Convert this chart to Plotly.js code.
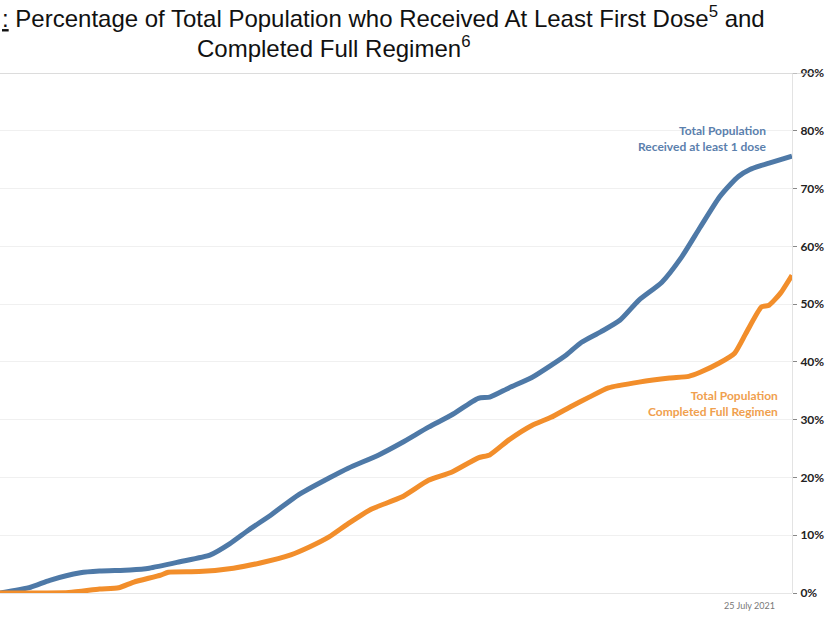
<!DOCTYPE html>
<html>
<head>
<meta charset="utf-8">
<script src="https://cdn.plot.ly/plotly-3.0.1.min.js"></script>
<style>html,body{margin:0;padding:0;background:#fff;}#chart{width:830px;height:622px;}</style>
</head>
<body>
<div id="chart"></div>
<script>
// Days since start of vaccination (30 Dec 2020) and % of total population
const startDate = '2020-12-30';
const endDate = '2021-07-25';

const firstDoseDays = [0, 8, 13, 21, 26, 34, 39, 47, 55, 60, 65, 71, 78, 86, 91, 99, 105, 112, 118, 125, 128, 133, 139, 144, 148, 152, 157, 162, 167, 173, 178, 183, 188, 191, 193, 196, 199, 201, 207];
const firstDosePct = [0.0, 1.0, 2.2, 3.5, 3.8, 4.0, 4.3, 5.4, 6.6, 8.5, 10.9, 13.6, 17.0, 19.9, 21.6, 23.9, 26.0, 28.7, 30.8, 33.7, 33.9, 35.5, 37.3, 39.4, 41.2, 43.4, 45.2, 47.2, 50.7, 53.8, 58.0, 63.3, 68.5, 70.8, 72.1, 73.3, 74.0, 74.4, 75.6];

const fullRegimenDays = [0, 18, 26, 31, 35, 42, 44, 52, 61, 68, 76, 81, 86, 91, 97, 105, 112, 118, 125, 128, 133, 139, 144, 149, 154, 159, 167, 175, 180, 183, 188, 192, 195, 199, 201, 204, 207];
const fullRegimenPct = [0.0, 0.1, 0.7, 0.9, 1.9, 3.1, 3.6, 3.7, 4.3, 5.2, 6.6, 8.0, 9.7, 12.0, 14.5, 16.6, 19.5, 20.9, 23.4, 23.9, 26.5, 29.0, 30.4, 32.2, 33.9, 35.5, 36.5, 37.2, 37.5, 38.2, 39.8, 41.5, 45.0, 49.5, 49.8, 51.9, 55.0];

const yTicks = [0, 10, 20, 30, 40, 50, 60, 70, 80, 90];
const yTickText = ['0%', '10%', '20%', '30%', '40%', '50%', '60%', '70%', '80%', '90%'];

function toDates(days) {
  const base = new Date(startDate + 'T00:00:00Z');
  return days.map(d => {
    const t = new Date(base.getTime() + d * 86400000);
    return t.toISOString().slice(0, 10);
  });
}

const blue = '#4e79a7';
const orange = '#f28e2b';

const traces = [
  {
    x: toDates(firstDoseDays), y: firstDosePct, type: 'scatter', mode: 'lines',
    line: {color: blue, width: 5, shape: 'spline', smoothing: 0.6},
    hoverinfo: 'skip', showlegend: false
  },
  {
    x: toDates(fullRegimenDays), y: fullRegimenPct, type: 'scatter', mode: 'lines',
    line: {color: orange, width: 5, shape: 'spline', smoothing: 0.5},
    hoverinfo: 'skip', showlegend: false
  }
];

const layout = {
  width: 830, height: 622,
  margin: {l: 0, r: 38, t: 73, b: 29, pad: 0},
  paper_bgcolor: '#ffffff', plot_bgcolor: '#ffffff',
  showlegend: false,
  xaxis: {
    type: 'date', range: [startDate, endDate],
    showticklabels: false, showgrid: false, zeroline: false, showline: false, ticks: ''
  },
  yaxis: {
    side: 'right', range: [0, 90], tickvals: yTicks, ticktext: yTickText,
    showgrid: true, gridcolor: '#f0f0f0', gridwidth: 1,
    zeroline: true, zerolinecolor: '#e6e6e6', zerolinewidth: 1,
    showline: true, linecolor: '#e3e3e3', linewidth: 1,
    ticks: 'outside', ticklen: 4, tickcolor: '#888', ticklabelstandoff: 1,
    tickfont: {family: 'Lato, sans-serif', size: 12, color: '#222', weight: 'bold'}
  },
  shapes: [
    {type: 'line', xref: 'paper', yref: 'y', x0: 0, x1: 1.035, y0: 90, y1: 90,
     line: {color: '#d0d0d0', width: 1.5}}
  ],
  annotations: [
    {xref: 'paper', yref: 'paper', x: 0, y: 1.108, xanchor: 'left', yanchor: 'middle',
     text: '<u>:</u> Percentage of Total Population who Received At Least First Dose<sup>5</sup> and',
     showarrow: false, font: {family: 'Liberation Sans, Arial, sans-serif', size: 24, color: '#111'}},
    {xref: 'paper', yref: 'paper', x: 333 / 792, y: 1.05, xanchor: 'center', yanchor: 'middle',
     text: 'Completed Full Regimen<sup>6</sup>',
     showarrow: false, font: {family: 'Liberation Sans, Arial, sans-serif', size: 24, color: '#111'}},
    {xref: 'paper', yref: 'y', x: 769 / 792, y: 78.6, xanchor: 'right', yanchor: 'middle', align: 'right',
     text: 'Total Population<br>Received at least 1 dose',
     showarrow: false, font: {family: 'Lato, sans-serif', size: 12, color: '#5b80ad', weight: 'bold'}},
    {xref: 'paper', yref: 'y', x: 780 / 792, y: 32.8, xanchor: 'right', yanchor: 'middle', align: 'right',
     text: 'Total Population<br>Completed Full Regimen',
     showarrow: false, font: {family: 'Lato, sans-serif', size: 12, color: '#f0a04e', weight: 'bold'}},
    {xref: 'paper', yref: 'paper', x: 749 / 792, y: -12 / 520, xanchor: 'center', yanchor: 'middle',
     text: '25 July 2021',
     showarrow: false, font: {family: 'Lato, sans-serif', size: 9, color: '#777'}}
  ]
};

Plotly.newPlot('chart', traces, layout, {staticPlot: true, displayModeBar: false});
</script>
</body>
</html>
